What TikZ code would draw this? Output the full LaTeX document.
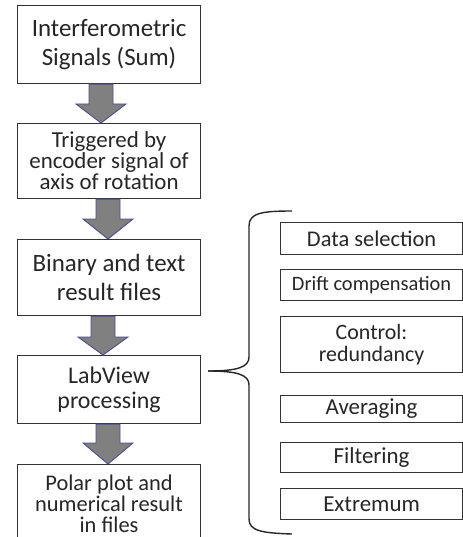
\documentclass[tikz,border=0pt]{standalone}
\usepackage{fontspec}
\setmainfont{Carlito}
\usetikzlibrary{calc}

\tikzset{
  box/.style={draw=black!80, line width=1.1bp, fill=white, inner sep=0pt,
    anchor=north west, align=center, text=black!85},
  flowarr/.style={fill=black!50, draw=blue!35!black!70, line width=0.9bp, line join=miter},
  bracket/.style={draw=black!85, line width=1.4bp}
}

% block arrow: #1 source node, #2 target node, #3 centre x, #4 head length
\newcommand\flowarrow[4]{%
  \draw[flowarr]
    ({#3-12},0 |- #1.south) -- ({#3+12},0 |- #1.south)
    -- ($({#3+12},0 |- #2.north)+(0,-#4)$)
    -- ($({#3+25},0 |- #2.north)+(0,-#4)$)
    -- ({#3},0 |- #2.north)
    -- ($({#3-25},0 |- #2.north)+(0,-#4)$)
    -- ($({#3-12},0 |- #2.north)+(0,-#4)$) -- cycle;}

\begin{document}
\begin{tikzpicture}[x=1bp, y=-1bp]
\useasboundingbox (0,0) rectangle (463,537);
\clip (0,0) rectangle (463,537);

% processing chain
\node[box, minimum width=183bp, minimum height=78bp,
  font=\fontsize{25}{29}\selectfont] (b1) at (17,5)
  {Interferometric\\Signals (Sum)};
\node[box, minimum width=183bp, minimum height=75bp,
  font=\fontsize{23}{21}\selectfont] (b2) at (17,123)
  {Triggered by\\encoder signal of\\axis of rotation};
\node[box, minimum width=183bp, minimum height=76bp,
  font=\fontsize{25}{29}\selectfont] (b3) at (17,239)
  {Binary and text\\result files};
\node[box, minimum width=183bp, minimum height=68bp,
  font=\fontsize{24}{25}\selectfont] (b4) at (17,355)
  {LabView\\processing};
\node[box, minimum width=183bp, minimum height=78bp,
  font=\fontsize{22.5}{21}\selectfont] (b5) at (17,464)
  {Polar plot and\\numerical result\\in files};

\flowarrow{b1}{b2}{101}{19}
\flowarrow{b2}{b3}{108}{20}
\flowarrow{b3}{b4}{103}{18}
\flowarrow{b4}{b5}{108}{21}

% processing steps
\node[box, minimum width=182bp, minimum height=32bp,
  font=\fontsize{22.5}{24}\selectfont] (s1) at (280,222) {Data selection};
\node[box, minimum width=182bp, minimum height=31bp,
  font=\fontsize{20.5}{22}\selectfont] (s2) at (280,269) {Drift compensation};
\node[box, minimum width=182bp, minimum height=56bp,
  font=\fontsize{22}{22}\selectfont] (s3) at (280,316) {Control:\\redundancy};
\node[box, minimum width=182bp, minimum height=27bp,
  font=\fontsize{23}{24}\selectfont] (s4) at (280,395) {Averaging};
\node[box, minimum width=182bp, minimum height=30bp,
  font=\fontsize{23}{24}\selectfont] (s5) at (280,442) {Filtering};
\node[box, minimum width=182bp, minimum height=31bp,
  font=\fontsize{23}{24}\selectfont] (s6) at (280,488) {Extremum};

% curly bracket gathering the steps
\coordinate (tip) at (208,371);
\draw[bracket] (292,211) .. controls (262,211) and (249,213) .. (249,226)
  -- (249,357) .. controls (249,367) and (238,371) .. (tip);
\draw[bracket] (tip) .. controls (238,371) and (249,375) .. (249,385)
  -- (249,519) .. controls (249,531) and (262,533) .. (292,534);
\end{tikzpicture}
\end{document}
